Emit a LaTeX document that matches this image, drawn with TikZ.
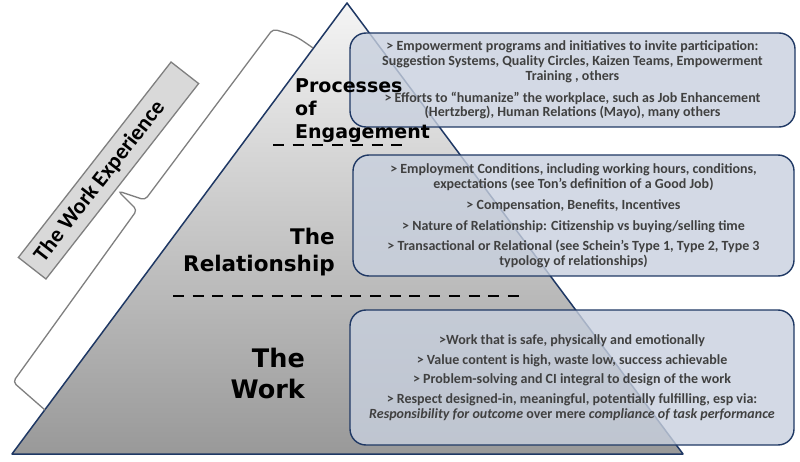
\documentclass[tikz,border=0pt]{standalone}
\usepackage{fontspec}
\setmainfont{Carlito}
\newfontfamily\levelfont{DejaVu Sans}
\definecolor{navy}{RGB}{31,56,100}
\definecolor{boxfill}{RGB}{200,208,222}
\definecolor{boxtext}{RGB}{64,64,64}
\definecolor{bracegray}{RGB}{127,127,127}
\tikzset{
  infobox/.style={draw=navy, line width=1.4pt, rounded corners=16pt, fill=boxfill, fill opacity=0.8, text opacity=1,
    text=boxtext, align=center, font=\bfseries\fontsize{14}{14.8}\selectfont, inner sep=0pt},
  level/.style={align=left, inner sep=0pt},
  divider/.style={line width=2.6pt, dash pattern=on 11pt off 8.7pt},
  brace/.style={draw=bracegray, line width=1.3pt, rounded corners=4pt}
}
\begin{document}
\begin{tikzpicture}[x=1pt,y=-1pt]
\useasboundingbox (0,0) rectangle (800,462);
\coordinate (L) at (12,454);
\coordinate (T) at (347,3);
\coordinate (R) at (683,454);
\shade[top color=white!96!black, bottom color=black!40] (L) -- (T) -- (R) -- cycle;
\draw[navy, line width=1.5pt, line join=round] (L) -- (T) -- (R) -- cycle;
\draw[brace] (313,48) .. controls (296,36) .. (273,29) -- (145,200) -- (118,191) -- (137,210) -- (13,382) -- (45,410);
\node (X) at (108.5,170.5) [rotate=52, draw=bracegray, line width=1.3pt, fill=black!15, minimum width=248pt, minimum height=35pt,
  font=\bfseries\fontsize{22.5}{24}\selectfont] {The Work Experience\hspace*{28pt}};
\draw[divider] (273,145) -- (402,145);
\draw[divider] (173,296) -- (520,296);
\node (B1) at (572.5,80) [infobox, minimum width=445pt, minimum height=94pt]
  {> Empowerment programs and initiatives to invite participation:\\
   Suggestion Systems, Quality Circles, Kaizen Teams, Empowerment\\
   Training , others\\[7pt]
   > Efforts to “humanize” the workplace, such as Job Enhancement\\
   (Hertzberg), Human Relations (Mayo), many others};
\node (B2) at (573.5,215.5) [infobox, minimum width=441pt, minimum height=121pt]
  {> Employment Conditions, including working hours, conditions,\\
   expectations (see Ton’s definition of a Good Job)\\[7pt]
   > Compensation, Benefits, Incentives\\[6pt]
   > Nature of Relationship: Citizenship vs buying/selling time\\[5pt]
   > Transactional or Relational (see Schein’s Type 1, Type 2, Type 3\\
   typology of relationships)};
\node (B3) at (572,377.5) [infobox, minimum width=444pt, minimum height=135pt]
  {>Work that is safe, physically and emotionally\\[5pt]
   > Value content is high, waste low, success achievable\\[5pt]
   > Problem-solving and CI integral to design of the work\\[5pt]
   > Respect designed-in, meaningful, potentially fulfilling, esp via:\\
   \textit{Responsibility for outcome} over mere \textit{compliance} \textit{of task performance}};
\node (P) at (295,78) [level, anchor=north west, font=\levelfont\bfseries\fontsize{19}{23}\selectfont] {Processes\\of\\Engagement};
\node (Rel) at (335,228) [level, anchor=north east, align=right, font=\levelfont\bfseries\fontsize{21.5}{27}\selectfont] {The\\Relationship};
\node (W) at (305,348) [level, anchor=north east, align=right, font=\levelfont\bfseries\fontsize{25.5}{31}\selectfont] {The\\Work};
\end{tikzpicture}
\end{document}
